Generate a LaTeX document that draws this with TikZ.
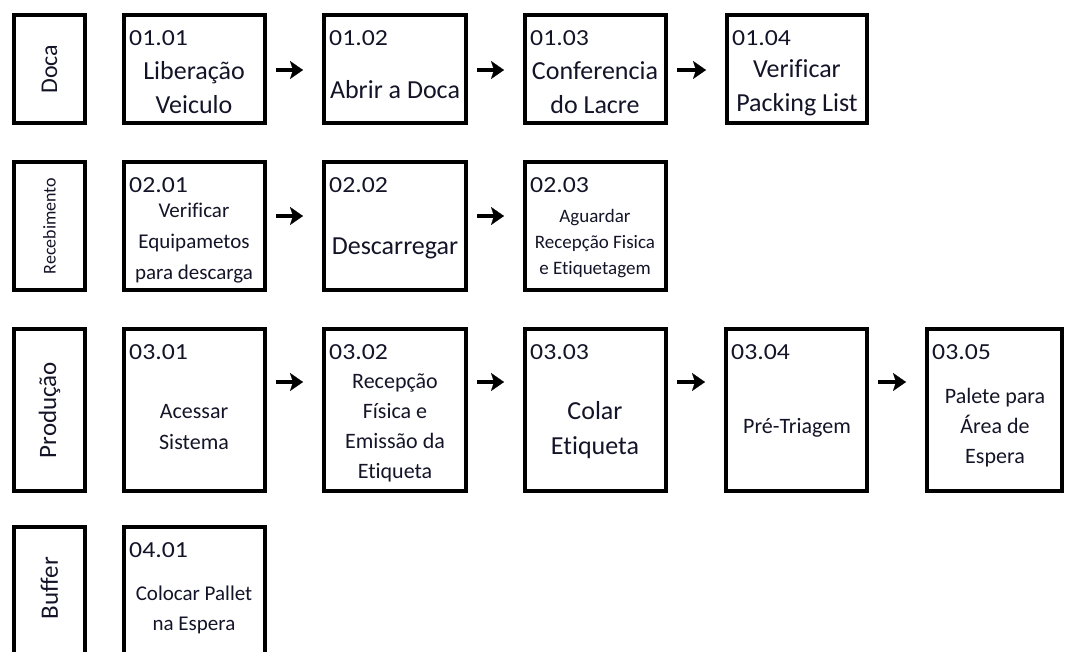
\documentclass[tikz,border=0pt]{standalone}
\usepackage{fontspec}
\setmainfont{Carlito}[Numbers=Lining,Ligatures=NoCommon]
\newfontfamily\numfont[FakeStretch=1.12,Numbers=Lining]{Carlito}
\usetikzlibrary{arrows.meta,calc}
\definecolor{txt}{RGB}{20,20,40}
\newcommand\bx[5]{\node[box,minimum width={#4-#2-4},minimum height={#5-#3-4}] (#1) at ({(#2+#4)/2},{(#3+#5)/2}) {};}
\newcommand\fs[2]{\fontsize{#1}{#2}\selectfont}
\begin{document}
\begin{tikzpicture}[x=1pt,y=-1pt,
  box/.style={draw=black,line width=4pt,inner sep=0pt,outer sep=0pt},
  num/.style={anchor=west,inner sep=0pt,text=txt,font=\numfont\fs{23}{25}},
  body/.style={align=center,inner sep=0pt,text=txt},
  lane/.style={rotate=90,inner sep=0pt,text=txt},
  flow/.style={line width=4.5pt,-{Stealth[length=13pt,width=18pt,inset=3pt,line width=0.1pt]}}]
\useasboundingbox (0,0) rectangle (1066,651);
\clip (0,0) rectangle (1066,651);
% lanes
\bx{L1}{12}{13}{87}{125}
\bx{L2}{12}{160}{87}{292}
\bx{L3}{12}{327}{87}{493}
\bx{L4}{12}{525}{87}{690}
\node[lane,font=\fs{24}{26}] (L1t) at (L1) {Doca};
\node[lane,font=\fs{18}{20}] (L2t) at (L2) {Recebimento};
\node[lane,font=\fs{25}{27}] (L3t) at (L3) {Produção};
\node[lane,font=\fs{25}{27}] (L4t) at (49.5,588) {Buffer};
% row 1
\bx{b11}{122}{13}{267}{125}
\bx{b12}{322}{13}{468}{125}
\bx{b13}{523}{13}{668}{125}
\bx{b14}{725}{13}{869}{125}
% row 2
\bx{b21}{122}{160}{267}{292}
\bx{b22}{322}{160}{468}{292}
\bx{b23}{523}{160}{668}{292}
% row 3
\bx{b31}{122}{327}{267}{493}
\bx{b32}{322}{327}{468}{493}
\bx{b33}{523}{327}{668}{493}
\bx{b34}{724}{327}{869}{493}
\bx{b35}{925}{327}{1064}{493}
% row 4
\bx{b41}{122}{525}{267}{690}
% numbers
\foreach \b/\t in {b11/01.01,b12/01.02,b13/01.03,b14/01.04,b21/02.01,b22/02.02,b23/02.03,b31/03.01,b32/03.02,b33/03.03,b34/03.04,b35/03.05,b41/04.01}
  \node[num] (n\b) at ($(\b.north west)+(5,23)$) {\t};
% body texts
\node[body,font=\fs{26}{34}] (t11) at (194,88) {Liberação\\Veiculo};
\node[body,font=\fs{26}{34}] (t12) at (395,90) {Abrir a Doca};
\node[body,font=\fs{26}{34}] (t13) at (595,88) {Conferencia\\do Lacre};
\node[body,font=\fs{26}{34}] (t14) at (797,88) {Verificar\\Packing List};
\node[body,font=\fs{21}{31}] (t21) at (194,243) {Verificar\\Equipametos\\para descarga};
\node[body,font=\fs{26}{34}] (t22) at (395,248) {Descarregar};
\node[body,font=\fs{19}{26}] (t23) at (595,244) {Aguardar\\Recepção Fisica\\e Etiquetagem};
\node[body,font=\fs{22}{31}] (t31) at (194,427) {Acessar\\Sistema};
\node[body,font=\fs{22}{30}] (t32) at (395,428) {Recepção\\Física e\\Emissão da\\Etiqueta};
\node[body,font=\fs{26}{35}] (t33) at (595,430) {Colar\\Etiqueta};
\node[body,font=\fs{22}{30}] (t34) at (797,428) {Pré-Triagem};
\node[body,font=\fs{22}{30}] (t35) at (995,428) {Palete para\\Área de\\Espera};
\node[body,font=\fs{21}{30}] (t41) at (194,610) {Colocar Pallet\\na Espera};
% arrows
\foreach \a/\b in {b11/b12,b12/b13,b13/b14}
  \draw[flow] ([xshift=11pt,yshift=-1pt]\a.east) -- ([xshift=-21pt,yshift=-1pt]\b.west);
\foreach \a/\b in {b21/b22,b22/b23}
  \draw[flow] ([xshift=11pt,yshift=10pt]\a.east) -- ([xshift=-21pt,yshift=10pt]\b.west);
\foreach \a/\b in {b31/b32,b32/b33,b33/b34,b34/b35}
  \draw[flow] ([xshift=11pt,yshift=28pt]\a.east) -- ([xshift=-21pt,yshift=28pt]\b.west);
\end{tikzpicture}
\end{document}
